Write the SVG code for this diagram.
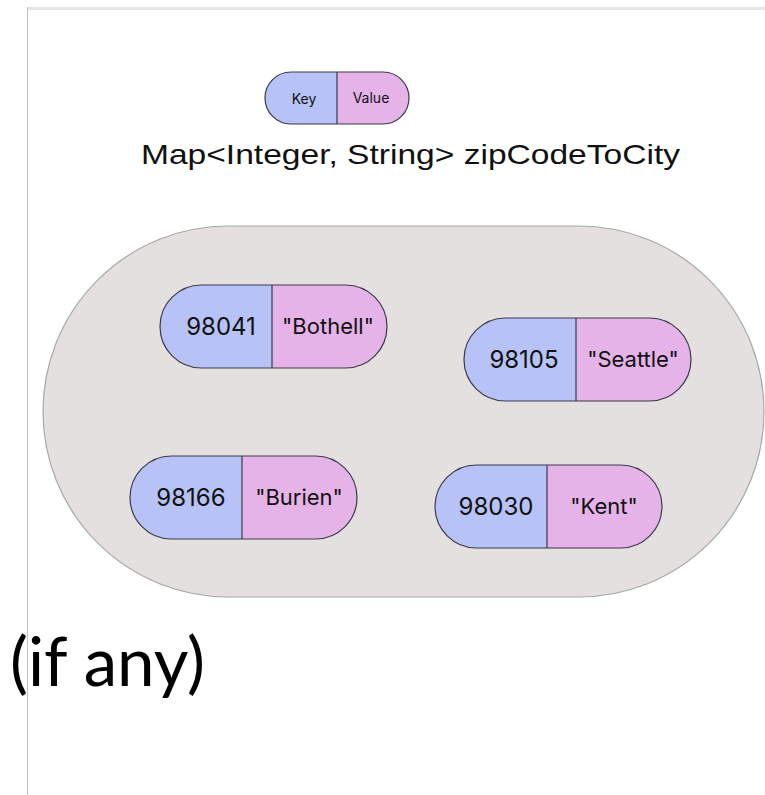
<svg xmlns="http://www.w3.org/2000/svg" width="765" height="795" viewBox="0 0 765 795">
<style>
.k{fill:#b7c3f6;}
.v{fill:#e6b3e9;}
.o{fill:none;stroke:#3a3a4a;stroke-width:1.2;}
.d{stroke:#3a3a4a;stroke-width:1.2;}
.t{font-family:Inter,"Liberation Sans",sans-serif;fill:#111;text-anchor:middle;}
</style>
<rect x="0" y="0" width="765" height="795" fill="#fff"/>
<rect x="27" y="7" width="738" height="3" fill="#e6e6ea"/>
<line x1="27.5" y1="7" x2="27.5" y2="795" stroke="#c0c0c0" stroke-width="1"/>
<g id="legend">
<path class="k" d="M337,72 H291 A26,26 0 0 0 291,124 H337 Z"/>
<path class="v" d="M337,72 H383 A26,26 0 0 1 383,124 H337 Z"/>
<rect class="o" x="265" y="72" width="144" height="52" rx="26"/>
<line class="d" x1="337" y1="72" x2="337" y2="124"/>
<text class="t" x="304" y="104" font-size="14">Key</text>
<text class="t" x="371" y="103" font-size="14">Value</text>
</g>
<text id="title" x="141" y="164" font-family="'Liberation Sans',Arial,sans-serif" font-size="28" fill="#111" textLength="539" lengthAdjust="spacingAndGlyphs">Map&lt;Integer, String&gt; zipCodeToCity</text>
<g id="map">
<rect x="43" y="226" width="721" height="371" rx="185.5" fill="#e3e0df" stroke="#a8a8a8" stroke-width="1.2"/>
</g>
<g id="e1">
<path class="k" d="M272,285 H201.5 A41.5,41.5 0 0 0 201.5,368 H272 Z"/>
<path class="v" d="M272,285 H345.5 A41.5,41.5 0 0 1 345.5,368 H272 Z"/>
<rect class="o" x="160" y="285" width="227" height="83" rx="41.5"/>
<line class="d" x1="272" y1="285" x2="272" y2="368"/>
<text class="t" x="221" y="335" font-size="24">98041</text>
<text class="t" x="328" y="334" font-size="22">"Bothell"</text>
</g>
<g id="e2">
<path class="k" d="M576,318 H505.5 A41.5,41.5 0 0 0 505.5,401 H576 Z"/>
<path class="v" d="M576,318 H649.5 A41.5,41.5 0 0 1 649.5,401 H576 Z"/>
<rect class="o" x="464" y="318" width="227" height="83" rx="41.5"/>
<line class="d" x1="576" y1="318" x2="576" y2="401"/>
<text class="t" x="524" y="368" font-size="24">98105</text>
<text class="t" x="633" y="367" font-size="22">"Seattle"</text>
</g>
<g id="e3">
<path class="k" d="M242,456 H171.5 A41.5,41.5 0 0 0 171.5,539 H242 Z"/>
<path class="v" d="M242,456 H315.5 A41.5,41.5 0 0 1 315.5,539 H242 Z"/>
<rect class="o" x="130" y="456" width="227" height="83" rx="41.5"/>
<line class="d" x1="242" y1="456" x2="242" y2="539"/>
<text class="t" x="191" y="506" font-size="24">98166</text>
<text class="t" x="299" y="505" font-size="22">"Burien"</text>
</g>
<g id="e4">
<path class="k" d="M547,465 H476.5 A41.5,41.5 0 0 0 476.5,548 H547 Z"/>
<path class="v" d="M547,465 H620.5 A41.5,41.5 0 0 1 620.5,548 H547 Z"/>
<rect class="o" x="435" y="465" width="227" height="83" rx="41.5"/>
<line class="d" x1="547" y1="465" x2="547" y2="548"/>
<text class="t" x="496" y="515" font-size="24">98030</text>
<text class="t" x="604" y="514" font-size="22">"Kent"</text>
</g>
<text x="10" y="686" font-family="Lato,'Open Sans',sans-serif" font-size="67" fill="#000" textLength="195" lengthAdjust="spacingAndGlyphs">(if any)</text>
</svg>
